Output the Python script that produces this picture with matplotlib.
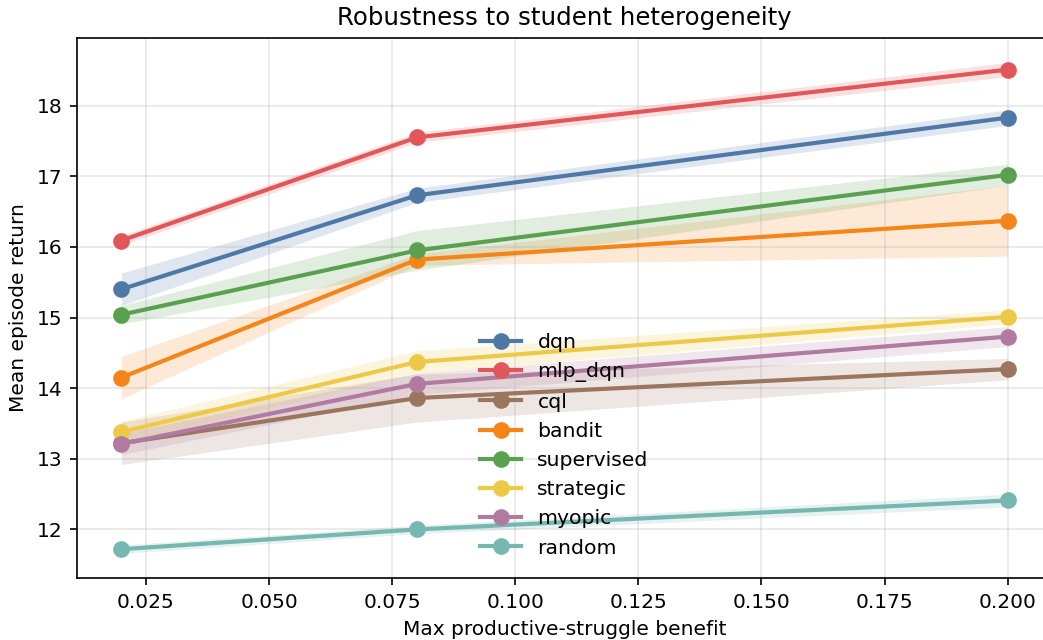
import numpy as np
import matplotlib.pyplot as plt

# max productive-struggle benefit settings
x = [0.02, 0.08, 0.2]

agents = ["dqn", "mlp_dqn", "cql", "bandit", "supervised", "strategic", "myopic", "random"]
colors = ["#4e79a7", "#e15759", "#9c755f", "#f58518", "#59a14f", "#edc948", "#b07aa1", "#76b7b2"]

# mean episode return per agent
dqn = [15.40, 16.73, 17.83]
mlp_dqn = [16.09, 17.55, 18.51]
cql = [13.22, 13.86, 14.27]
bandit = [14.15, 15.82, 16.37]
supervised = [15.04, 15.95, 17.02]
strategic = [13.38, 14.37, 15.01]
myopic = [13.21, 14.06, 14.73]
random_ = [11.72, 12.00, 12.41]

# half-width of shaded band
dqn_err = [0.23, 0.10, 0.11]
mlp_dqn_err = [0.07, 0.07, 0.10]
cql_err = [0.30, 0.34, 0.15]
bandit_err = [0.30, 0.08, 0.50]
supervised_err = [0.13, 0.28, 0.15]
strategic_err = [0.15, 0.16, 0.10]
myopic_err = [0.15, 0.15, 0.14]
random_err = [0.06, 0.06, 0.09]

means = [dqn, mlp_dqn, cql, bandit, supervised, strategic, myopic, random_]
errs = [dqn_err, mlp_dqn_err, cql_err, bandit_err, supervised_err,
        strategic_err, myopic_err, random_err]

fig = plt.figure(figsize=(1043 / 150, 640 / 150), dpi=150)
ax = fig.add_axes([77 / 1043, 62 / 640, 975 / 1043, 540 / 640])

for name, c, m, e in zip(agents, colors, means, errs):
    m = np.array(m)
    e = np.array(e)
    ax.plot(x, m, marker="o", ms=7, lw=2, color=c, label=name)
    ax.fill_between(x, m - e, m + e, color=c, alpha=0.18, lw=0)

ax.grid(True, alpha=0.3)
ax.set_title("Robustness to student heterogeneity", fontsize=11.7)
ax.set_xlabel("Max productive-struggle benefit", fontsize=9.7)
ax.set_ylabel("Mean episode return", fontsize=9.7)
ax.tick_params(labelsize=9.7)
ax.legend(loc="lower center", frameon=False, fontsize=9.8, borderaxespad=0.6)

fig.savefig("out.png", dpi=150)
